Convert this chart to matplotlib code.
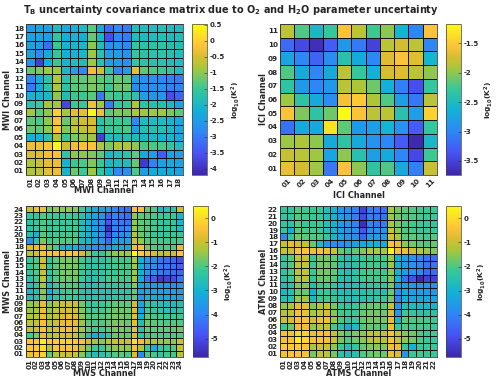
import numpy as np
import matplotlib
matplotlib.use("Agg")
import matplotlib.pyplot as plt
from matplotlib.colors import LinearSegmentedColormap

plt.rcParams['font.family'] = 'DejaVu Sans'
plt.rcParams['font.weight'] = 'bold'
plt.rcParams['axes.unicode_minus'] = False
plt.rcParams['mathtext.default'] = 'bf'

# matrices, rows written top-down (highest channel first)
mwi = [
    [-2.5,-2.4,-2.4,-1.9,-2.3,-2.2,-2.0,-1.3,-2.3,-3.2,-2.8,-3.0,-1.9,-1.9,-1.9,-1.8,-1.9,-1.9],
    [-2.4,-2.4,-2.5,-1.6,-2.2,-2.1,-2.2,-1.2,-2.0,-3.6,-2.8,-3.0,-1.9,-1.9,-1.9,-1.8,-1.9,-1.9],
    [-2.4,-2.5,-3.2,-1.5,-2.1,-2.0,-2.0,-1.0,-1.8,-2.7,-2.6,-2.8,-1.6,-1.7,-1.7,-1.7,-1.8,-1.9],
    [-2.4,-2.8,-2.3,-1.6,-2.2,-2.1,-2.0,-0.9,-1.7,-2.5,-2.5,-2.7,-1.6,-1.7,-1.7,-1.7,-1.8,-1.9],
    [-2.6,-3.8,-2.2,-1.5,-2.1,-1.9,-1.9,-0.9,-1.7,-2.5,-2.5,-2.7,-1.6,-1.7,-1.7,-1.7,-1.8,-1.9],
    [-1.2,-1.1,-0.9,-0.9,-2.0,-2.4,-2.8,-0.3,-0.6,-1.6,-2.8,-2.5,-0.4,-1.3,-1.4,-1.5,-1.6,-1.9],
    [-2.8,-2.2,-1.7,-0.8,-1.7,-1.3,-1.3,-1.1,-1.3,-1.4,-1.2,-1.3,-2.5,-2.7,-2.7,-2.8,-2.9,-3.0],
    [-3.0,-2.3,-1.7,-0.8,-1.7,-1.3,-1.3,-1.1,-1.2,-1.5,-1.2,-1.2,-2.8,-2.7,-2.7,-2.7,-2.9,-2.9],
    [-2.1,-2.1,-2.0,-1.0,-1.9,-1.5,-1.5,-1.3,-3.0,-1.4,-1.5,-1.5,-1.7,-2.5,-2.6,-2.6,-3.6,-3.3],
    [-1.7,-1.5,-0.9,-0.9,-3.7,-1.5,-1.5,-0.3,-0.9,-3.0,-1.6,-1.5,-0.8,-1.7,-1.8,-1.8,-2.0,-2.4],
    [-0.9,-1.3,-1.0,0.0,-0.9,-0.4,-0.4,0.5,-0.3,-1.3,-1.1,-1.1,-0.8,-0.9,-0.9,-0.9,-1.1,-1.3],
    [-1.3,-1.4,-1.0,-0.2,-1.2,-0.8,-0.6,-0.5,-1.7,-1.5,-1.5,-1.5,-2.8,-1.9,-1.9,-1.9,-2.1,-2.3],
    [-1.2,-1.3,-1.0,-0.2,-1.1,-0.7,-0.7,-0.5,-1.7,-1.5,-1.5,-1.4,-2.4,-1.8,-1.8,-1.8,-2.0,-2.3],
    [-2.2,-2.1,-1.7,-0.8,-1.5,-1.1,-1.0,-0.9,-3.8,-1.9,-1.9,-1.8,-1.9,-2.0,-2.0,-2.1,-2.1,-2.3],
    [-0.3,-0.3,-0.2,0.5,-0.6,-0.3,-0.2,-0.2,-0.8,-1.1,-0.8,-0.8,-1.0,-1.4,-1.4,-1.4,-1.6,-1.9],
    [-0.5,-0.5,-0.3,-0.2,-1.6,-1.0,-1.0,-1.1,-1.3,-2.0,-1.8,-1.7,-1.3,-2.3,-2.5,-3.4,-2.4,-2.5],
    [-0.8,-0.6,-0.4,-0.3,-2.1,-1.5,-1.4,-1.1,-1.5,-2.0,-1.9,-1.9,-1.2,-3.9,-2.9,-2.4,-2.3,-2.4],
    [-0.8,-0.7,-0.4,-0.3,-2.1,-1.2,-1.5,-0.9,-1.6,-2.1,-2.8,-2.7,-1.4,-2.5,-2.3,-2.3,-2.3,-2.4],
]
ici = [
    [-1.85,-2.2,-2.55,-2.3,-1.55,-1.85,-2.25,-2.0,-2.6,-3.0,-1.55],
    [-3.2,-3.45,-3.65,-3.3,-2.85,-3.1,-3.5,-1.85,-1.75,-1.85,-3.0],
    [-2.75,-3.0,-3.25,-2.95,-2.4,-2.7,-3.0,-1.7,-1.55,-1.7,-2.6],
    [-2.2,-2.7,-3.0,-2.7,-1.85,-2.3,-2.65,-1.75,-1.7,-1.85,-2.0],
    [-2.35,-2.85,-3.0,-2.85,-1.85,-1.9,-2.1,-2.65,-3.05,-3.4,-2.3],
    [-1.95,-2.35,-2.7,-2.95,-1.6,-1.5,-1.9,-2.2,-2.8,-3.1,-1.85],
    [-1.55,-2.05,-2.35,-2.1,-1.17,-1.55,-1.85,-1.85,-2.4,-2.8,-1.45],
    [-3.15,-2.7,-2.7,-1.35,-2.15,-2.85,-2.8,-2.6,-2.9,-3.3,-2.3],
    [-1.95,-1.9,-2.0,-2.7,-2.35,-2.7,-2.9,-3.0,-3.3,-3.7,-2.55],
    [-1.8,-1.85,-1.95,-2.75,-2.0,-2.4,-2.8,-2.7,-3.0,-3.45,-2.25],
    [-1.65,-1.75,-1.95,-3.1,-1.55,-2.0,-2.35,-2.2,-2.7,-3.05,-1.8],
]
mws = [
    [-1.0,-0.6,-0.6,-1.7,-1.5,-1.5,-1.5,-1.6,-2.1,-2.8,-3.2,-3.4,-3.5,-4.0,-4.2,-4.4,-0.5,-0.6,-1.8,-2.0,-2.8,-2.6,-2.4,-1.0],
    [-2.3,-2.3,-2.0,-2.2,-2.2,-2.2,-2.2,-2.2,-2.5,-3.0,-3.4,-3.6,-4.6,-4.0,-4.2,-4.4,-1.5,-1.9,-2.0,-2.1,-2.2,-2.2,-2.2,-2.9],
    [-2.4,-2.3,-2.0,-2.2,-2.2,-2.2,-2.2,-2.2,-2.6,-3.0,-3.5,-3.7,-4.8,-4.0,-4.1,-4.3,-1.5,-1.9,-2.0,-2.1,-2.3,-2.3,-2.3,-2.9],
    [-2.4,-2.3,-2.0,-2.3,-2.2,-2.2,-2.2,-2.2,-2.6,-3.1,-3.5,-3.8,-5.5,-4.0,-4.1,-3.9,-1.4,-1.9,-2.0,-2.1,-2.3,-2.3,-2.3,-2.8],
    [-2.6,-3.1,-1.9,-2.2,-2.1,-2.1,-2.1,-2.1,-2.6,-3.0,-3.3,-3.6,-5.0,-3.9,-3.8,-3.7,-1.2,-1.8,-2.0,-2.2,-2.2,-2.2,-2.2,-2.2],
    [-3.8,-2.4,-1.7,-2.1,-2.0,-2.0,-2.0,-2.0,-2.7,-2.9,-3.3,-3.6,-4.4,-3.4,-3.5,-3.4,-0.9,-1.5,-2.0,-2.0,-2.1,-2.1,-2.1,-2.0],
    [-0.9,-0.7,-0.7,-1.7,-2.1,-2.9,-3.0,-3.0,-3.5,-3.6,-3.8,-3.8,-3.6,-3.2,-3.2,-3.3,-0.6,-0.5,-1.7,-2.0,-2.1,-2.0,-2.0,-0.7],
    [-1.2,-0.9,-0.5,-0.5,-0.5,-0.5,-0.4,-0.4,-0.9,-1.6,-2.2,-2.3,-1.8,-1.5,-1.4,-1.4,0.5,-0.3,-0.6,-0.8,-1.2,-1.1,-1.1,-0.4],
    [-2.2,-2.0,-0.9,-2.3,-1.9,-1.7,-1.7,-1.7,-2.1,-2.4,-2.4,-2.4,-2.2,-2.1,-2.1,-2.1,-1.3,-3.1,-3.6,-3.8,-4.2,-4.4,-4.5,-5.0],
    [-2.2,-2.0,-1.0,-2.3,-1.9,-1.7,-1.7,-1.7,-2.1,-2.4,-2.4,-2.4,-2.2,-2.1,-2.1,-2.1,-1.4,-3.1,-3.6,-3.8,-4.2,-4.3,-4.4,-4.6],
    [-2.3,-2.0,-1.0,-2.4,-2.0,-1.7,-1.7,-1.7,-2.2,-2.5,-2.5,-2.4,-2.2,-2.2,-2.1,-2.1,-1.4,-3.0,-3.6,-3.8,-4.2,-4.3,-4.4,-4.5],
    [-2.4,-2.1,-1.1,-2.4,-2.0,-1.8,-1.8,-1.8,-2.2,-2.5,-2.5,-2.4,-2.1,-2.1,-2.1,-2.1,-1.4,-3.2,-4.3,-4.7,-5.4,-5.2,-5.0,-4.3],
    [-2.6,-2.3,-1.4,-2.8,-2.2,-2.0,-2.0,-2.0,-2.4,-2.5,-2.5,-2.4,-2.3,-2.3,-2.3,-2.3,-1.6,-3.4,-3.5,-3.6,-3.7,-3.7,-3.7,-3.7],
    [-2.8,-2.5,-1.6,-3.1,-2.4,-2.2,-2.1,-2.1,-2.4,-2.5,-2.5,-2.5,-2.5,-2.4,-2.4,-2.4,-1.8,-3.5,-3.3,-3.3,-3.4,-3.4,-3.4,-3.5],
    [-2.7,-2.5,-1.7,-2.8,-2.4,-2.2,-2.2,-2.2,-2.4,-2.5,-2.5,-2.5,-2.5,-2.4,-2.4,-2.4,-1.9,-3.6,-3.0,-3.2,-3.3,-3.3,-3.3,-3.4],
    [-1.5,-1.4,-0.7,-1.6,-1.2,-1.0,-1.0,-1.0,-1.7,-2.2,-2.2,-2.2,-2.0,-1.9,-1.9,-1.9,-0.9,-3.3,-2.3,-2.5,-2.6,-2.7,-2.7,-2.6],
    [-1.5,-1.3,-0.6,-1.5,-1.1,-0.9,-0.9,-0.9,-1.6,-2.1,-2.1,-2.1,-1.9,-1.8,-1.8,-1.8,-0.8,-3.4,-2.2,-2.3,-2.4,-2.5,-2.5,-2.5],
    [-1.3,-1.2,-0.6,-1.3,-1.0,-0.8,-0.7,-0.8,-1.5,-2.0,-2.0,-2.0,-1.8,-1.7,-1.7,-1.8,-0.7,-3.0,-1.9,-2.1,-2.1,-2.2,-2.2,-2.2],
    [-1.2,-1.1,-0.5,-1.3,-1.0,-0.7,-0.7,-0.7,-1.5,-2.0,-2.0,-2.0,-1.8,-1.7,-1.7,-1.8,-0.7,-2.7,-1.8,-1.9,-2.0,-2.0,-2.0,-2.0],
    [-1.1,-1.0,-0.5,-1.1,-0.8,-0.6,-0.6,-0.7,-1.4,-1.9,-2.2,-2.1,-1.9,-1.7,-1.7,-1.8,-0.7,-2.5,-1.8,-1.9,-1.9,-1.9,-1.9,-1.8],
    [-2.1,-1.7,-0.7,-1.3,-1.0,-0.9,-0.9,-1.0,-1.7,-2.5,-3.1,-2.8,-2.3,-1.8,-1.8,-1.9,-0.8,-2.4,-2.0,-2.0,-2.0,-2.0,-2.0,-2.0],
    [-0.5,-0.4,0.3,-0.4,-0.3,-0.2,-0.2,-0.3,-0.5,-1.0,-1.4,-1.6,-1.2,-1.0,-1.0,-1.0,0.1,-0.6,-1.1,-1.3,-1.5,-1.5,-1.5,-1.0],
    [-0.3,-0.3,0.0,-1.2,-0.4,-0.5,-0.4,-0.5,-1.1,-1.7,-2.2,-2.2,-1.7,-1.5,-1.4,-1.5,-0.5,-1.3,-2.2,-3.2,-2.3,-2.2,-2.0,-1.0],
    [-0.6,-0.4,-0.2,-1.9,-1.2,-1.0,-1.0,-1.0,-1.6,-2.3,-2.6,-2.5,-2.2,-2.0,-1.9,-2.0,-0.8,-3.9,-2.0,-2.1,-2.3,-2.1,-2.1,-1.2],
]
atms = [
    [-2.3,-2.3,-2.0,-2.1,-2.2,-2.2,-2.6,-3.0,-3.6,-3.8,-4.1,-5.2,-4.1,-4.2,-4.4,-1.3,-1.7,-1.9,-2.0,-2.1,-2.2,-2.2],
    [-2.3,-2.3,-2.0,-2.1,-2.2,-2.2,-2.6,-3.0,-3.5,-3.7,-4.1,-5.0,-4.1,-4.2,-4.3,-1.4,-1.7,-2.0,-2.0,-2.1,-2.2,-2.2],
    [-2.3,-2.4,-2.0,-2.2,-2.2,-2.2,-2.6,-3.0,-3.6,-3.7,-4.0,-5.6,-4.0,-4.2,-4.1,-1.3,-1.7,-2.0,-2.1,-2.2,-2.3,-2.3],
    [-2.3,-3.1,-1.9,-2.1,-2.1,-2.2,-2.5,-2.9,-3.4,-3.6,-3.8,-4.8,-3.8,-3.7,-3.6,-1.0,-1.5,-2.0,-2.1,-2.2,-2.2,-2.2],
    [-3.9,-2.3,-1.7,-1.9,-2.0,-2.0,-2.3,-2.9,-3.3,-3.6,-3.8,-4.6,-3.5,-3.5,-3.5,-0.8,-1.3,-1.9,-1.9,-2.0,-2.1,-2.0],
    [-1.1,-0.7,-0.9,-1.1,-1.8,-2.8,-3.6,-3.8,-3.9,-3.6,-3.4,-3.2,-3.1,-3.1,-3.2,-0.4,-0.6,-1.5,-1.7,-1.9,-2.0,-1.8],
    [-1.1,-1.0,-0.4,-0.4,-0.6,-0.5,-0.6,-1.0,-1.8,-2.1,-1.9,-1.6,-1.3,-1.3,-1.3,0.4,-0.5,-0.6,-0.9,-1.2,-1.4,-1.6],
    [-2.3,-1.9,-1.1,-1.0,-2.2,-1.7,-1.7,-1.9,-2.4,-2.6,-2.4,-2.2,-2.1,-2.1,-2.1,-1.4,-3.1,-3.4,-3.7,-3.9,-4.3,-4.4],
    [-2.3,-2.0,-1.1,-1.1,-2.2,-1.7,-1.7,-1.9,-2.4,-2.6,-2.4,-2.2,-2.1,-2.1,-2.2,-1.4,-3.0,-3.4,-3.7,-3.9,-4.3,-4.3],
    [-2.3,-2.0,-1.2,-1.1,-2.2,-1.7,-1.7,-1.9,-2.4,-2.6,-2.4,-2.1,-2.1,-2.1,-2.2,-1.5,-3.0,-3.5,-3.7,-3.9,-4.5,-4.4],
    [-2.4,-2.2,-1.3,-1.2,-2.3,-1.8,-1.8,-2.0,-2.5,-2.6,-2.4,-2.1,-2.1,-2.1,-2.1,-1.6,-3.0,-4.3,-4.9,-5.7,-5.2,-5.2],
    [-2.6,-2.4,-1.6,-1.6,-2.6,-2.1,-2.0,-2.3,-2.6,-2.6,-2.5,-2.4,-2.3,-2.3,-2.3,-1.7,-3.6,-3.4,-3.6,-3.7,-3.7,-3.8],
    [-2.8,-2.6,-1.8,-1.8,-3.1,-2.2,-2.2,-2.4,-2.6,-2.6,-2.5,-2.5,-2.4,-2.4,-2.6,-1.8,-3.7,-3.2,-3.4,-3.5,-3.5,-3.6],
    [-2.5,-2.4,-1.4,-1.4,-2.8,-2.2,-2.1,-2.3,-2.4,-2.6,-2.6,-2.5,-2.4,-2.3,-2.3,-1.7,-4.0,-3.1,-3.3,-3.3,-3.3,-3.3],
    [-1.5,-1.3,-0.7,-0.7,-1.6,-1.2,-1.1,-1.7,-2.2,-2.3,-2.2,-1.9,-1.8,-1.8,-1.9,-1.0,-3.6,-2.6,-2.7,-2.8,-2.8,-3.0],
    [-1.2,-1.1,-0.5,-0.6,-1.3,-1.0,-0.9,-1.6,-2.1,-2.2,-2.2,-1.8,-1.7,-1.7,-1.8,-0.9,-3.6,-2.2,-2.3,-2.4,-2.4,-2.4],
    [-1.0,-0.9,-0.5,-0.5,-0.9,-0.6,-0.6,-1.4,-2.0,-2.3,-2.2,-1.8,-1.7,-1.7,-1.7,-0.7,-2.9,-1.9,-2.0,-2.0,-2.1,-2.1],
    [-2.2,-1.8,-0.6,-0.6,-1.5,-1.2,-1.2,-2.1,-2.5,-3.2,-2.7,-2.0,-1.8,-1.9,-2.0,-0.6,-2.2,-2.0,-2.1,-2.1,-2.1,-2.2],
    [-0.5,-0.5,-0.1,-0.2,-0.6,-0.5,-0.5,-1.0,-1.6,-1.9,-1.6,-1.5,-1.1,-1.1,-1.1,-0.5,-1.1,-1.6,-1.7,-2.0,-2.2,-2.1],
    [-0.5,-0.5,0.3,-0.1,-0.5,-0.4,-0.5,-1.0,-1.7,-2.0,-1.8,-1.5,-1.2,-1.1,-1.2,-0.5,-1.1,-1.5,-1.7,-2.0,-2.2,-2.2],
    [-0.3,-0.3,-0.3,-0.4,-1.3,-1.0,-1.0,-1.5,-2.2,-2.6,-2.3,-1.8,-1.6,-1.5,-1.6,-0.6,-0.7,-2.2,-3.0,-2.2,-2.2,-2.2],
    [-0.5,-0.4,-0.4,-0.5,-1.7,-1.1,-1.2,-1.7,-2.4,-2.7,-2.5,-2.0,-1.8,-1.7,-1.8,-0.6,-0.8,-3.7,-2.2,-2.1,-2.2,-2.2],
]

mwi_ticks = [0.5, 0, -0.5, -1, -1.5, -2, -2.5, -3, -3.5, -4]
ici_ticks = [-1.5, -2, -2.5, -3, -3.5]
mw_ticks = [0, -1, -2, -3, -4, -5]

# approximate parula
parula = LinearSegmentedColormap.from_list("parula", [
    (0.0, (0.2422, 0.1504, 0.6603)), (1/7, (0.2810, 0.3228, 0.9579)),
    (2/7, (0.1786, 0.5289, 0.9682)), (3/7, (0.0689, 0.6948, 0.8394)),
    (4/7, (0.2161, 0.7843, 0.5923)), (5/7, (0.6720, 0.7793, 0.2227)),
    (0.79, (0.86, 0.74, 0.19)), (6/7, (0.9970, 0.7659, 0.2199)),
    (1.0, (0.9769, 0.9839, 0.0805))])

W, H = 500, 382
TXT = '#262626'
fig = plt.figure(figsize=(W/100, H/100), dpi=100)


def box(x0, x1, y0, y1):
    return [x0/W, 1-y1/H, (x1-x0)/W, (y1-y0)/H]


def panel(data, name, x0, y0, cx0, vlim, cticks, rot, xlab_y, cbar_x):
    data = np.array(data, dtype=float)[::-1]
    n = data.shape[0]
    ax = fig.add_axes(box(x0, x0+157, y0, y0+151))
    edges = np.arange(n+1)+0.5
    im = ax.pcolormesh(edges, edges, data, cmap=parula, vmin=vlim[0], vmax=vlim[1])
    # cell borders, soft like the downsampled original
    ax.vlines(edges, 0.5, n+0.5, color='#0a0a0a', linewidth=0.7, alpha=0.95)
    ax.hlines(edges, 0.5, n+0.5, color='#0a0a0a', linewidth=0.7, alpha=0.95)
    labels = ["%02d" % (i+1) for i in range(n)]
    ax.set_xticks(np.arange(1, n+1))
    ax.set_yticks(np.arange(1, n+1))
    ax.set_xticklabels(labels, rotation=rot, fontsize=5.2, color=TXT)
    ax.set_yticklabels(labels, fontsize=5.2, color=TXT)
    ax.tick_params(length=0, pad=1.5)
    ax.set_xlabel(name + " Channel", fontsize=5.9, color=TXT, fontweight='bold')
    ax.set_ylabel(name + " Channel", fontsize=5.9, color=TXT, fontweight='bold')
    ax.xaxis.set_label_coords(0.5, 1-(xlab_y-y0)/151, transform=ax.transAxes)
    ax.xaxis.label.set_verticalalignment('center')
    ax.yaxis.set_label_coords(-(18 if x0 < 100 else 17)/157, 0.5)
    ax.yaxis.label.set_verticalalignment('center')
    for s in ax.spines.values():
        s.set_color('#404040')
        s.set_linewidth(0.6)

    cax = fig.add_axes(box(cx0, cx0+15, y0, y0+151))
    cb = fig.colorbar(im, cax=cax)
    cb.set_ticks(cticks)
    cb.set_ticklabels(["%g" % t for t in cticks])
    cb.ax.tick_params(labelsize=5, length=2, width=0.4, direction='in', pad=2,
                      colors=TXT)
    cb.outline.set_edgecolor('#404040')
    cb.outline.set_linewidth(0.5)
    fig.text(cbar_x/W, 1-(y0+76)/H, r"log$_{10}$(K$^{2}$)", rotation=90, fontsize=5.3,
             color=TXT, ha='center', va='center')


panel(mwi, "MWI", 26, 24, 192, (-4.2, 0.52), mwi_ticks, 90, 191, 236)
panel(ici, "ICI", 280, 24, 446, (-3.74, -1.17), ici_ticks, 45, 196, 489)
panel(mws, "MWS", 26, 206, 193, (-5.76, 0.5), mw_ticks, 90, 374, 229)
panel(atms, "ATMS", 280, 206, 446, (-5.75, 0.51), mw_ticks, 90, 374, 482)

fig.text(231/W, 1-10/H, r"T$_{B}$ uncertainty covariance matrix due to O$_{2}$ and H$_{2}$O parameter uncertainty",
         fontsize=7.05, color=TXT, ha='center', va='center')

fig.savefig("out.png", dpi=100)
